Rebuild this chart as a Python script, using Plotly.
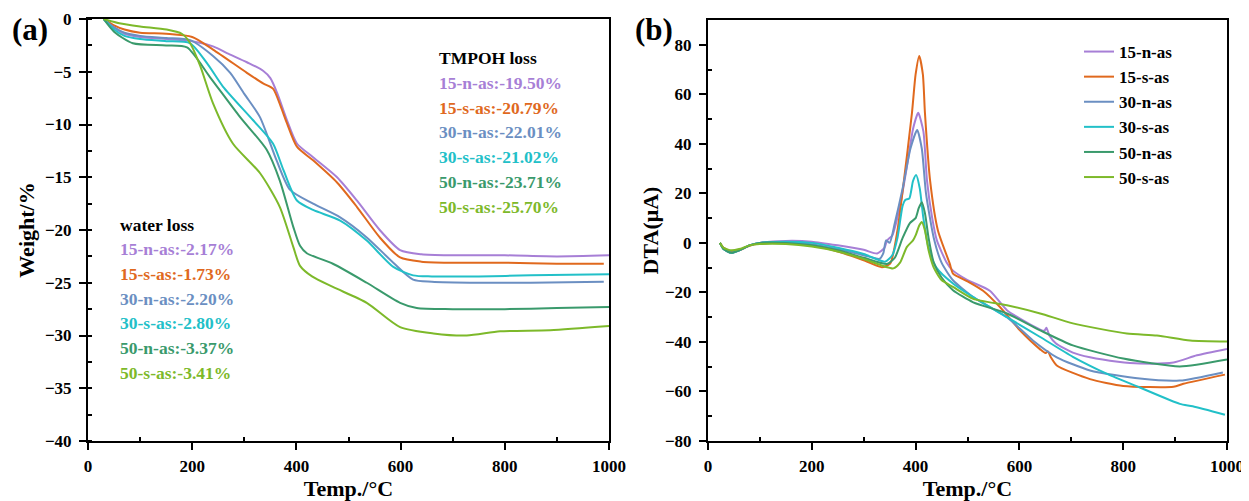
import plotly.graph_objects as go

# ---------------- data ----------------
names = ["15-n-as", "15-s-as", "30-n-as", "30-s-as", "50-n-as", "50-s-as"]
colors = ["#A77FD6", "#E0691E", "#6B8FC2", "#22C0C8", "#3A9A6C", "#7DB92A"]

# TGA (panel a)
tga_x_15n = [30, 50, 70, 100, 150, 200, 240, 270, 305, 336, 350, 363, 382, 401, 432, 478, 516, 560, 599, 640, 700, 800, 900, 1000]
tga_y_15n = [0, -0.8, -1.4, -1.7, -1.9, -2.1, -2.6, -3.3, -4.1, -4.9, -5.6, -7.0, -9.6, -11.8, -13.1, -15.0, -17.2, -20.0, -21.9, -22.3, -22.4, -22.4, -22.5, -22.4]
tga_x_15s = [30, 50, 70, 100, 150, 200, 240, 305, 336, 355, 370, 382, 401, 432, 478, 516, 560, 599, 640, 700, 800, 900, 990]
tga_y_15s = [0, -0.6, -1.0, -1.3, -1.4, -1.7, -2.9, -5.1, -6.1, -6.6, -8.3, -9.9, -12.1, -13.4, -15.5, -17.8, -20.7, -22.6, -23.0, -23.1, -23.1, -23.2, -23.2]
tga_x_30n = [30, 50, 70, 100, 150, 196, 240, 273, 300, 330, 362, 388, 432, 484, 535, 586, 624, 660, 750, 850, 990]
tga_y_30n = [0, -0.8, -1.3, -1.6, -1.8, -2.0, -3.5, -5.1, -7.1, -9.3, -13.4, -16.2, -17.5, -18.8, -20.7, -23.1, -24.7, -24.9, -25.0, -25.0, -24.9]
tga_x_30s = [30, 50, 70, 100, 150, 196, 230, 259, 317, 355, 375, 401, 432, 484, 535, 586, 624, 660, 750, 850, 1000]
tga_y_30s = [0, -1.0, -1.6, -1.9, -2.1, -2.3, -4.3, -6.4, -9.6, -11.8, -14.3, -17.2, -18.1, -19.1, -21.0, -23.5, -24.3, -24.4, -24.4, -24.3, -24.2]
tga_x_50n = [30, 50, 86, 150, 190, 234, 292, 343, 368, 394, 407, 420, 470, 535, 599, 631, 700, 800, 900, 1000]
tga_y_50n = [0, -1.2, -2.3, -2.5, -2.7, -5.5, -9.3, -12.4, -15.3, -19.7, -21.5, -22.2, -23.2, -25.0, -26.9, -27.4, -27.5, -27.5, -27.4, -27.3]
tga_x_50s = [30, 60, 100, 151, 180, 195, 215, 240, 278, 330, 368, 394, 407, 430, 470, 535, 599, 663, 727, 791, 887, 1000]
tga_y_50s = [0, -0.4, -0.7, -1.0, -1.4, -2.2, -4.4, -8.0, -11.8, -14.6, -17.8, -21.6, -23.4, -24.4, -25.4, -26.9, -29.2, -29.8, -30.0, -29.6, -29.5, -29.1]

# DTA (panel b)
dta_x_15n = [23, 30, 45, 60, 80, 100, 150, 200, 250, 300, 326, 340, 345, 355, 370, 385, 395, 405, 415, 422, 432, 441, 460, 472, 500, 543, 576, 607, 640, 648, 652, 658, 670, 703, 736, 790, 832, 897, 942, 1000]
dta_y_15n = [0, -2.5, -4, -3, -1, 0, 0.8, 0.5, -1, -2.8, -4.3, -2, 1, 3, 15, 33, 46, 52.5, 45, 25, 10, 1, -8, -11.2, -15, -19.3, -27.2, -31.3, -35.0, -35.5, -34.3, -37.5, -40.5, -44.3, -46.2, -48.0, -48.7, -48.3, -45.4, -42.8]
dta_x_15s = [23, 30, 45, 60, 80, 100, 150, 200, 250, 300, 335, 351, 365, 376, 393, 400, 407, 414, 418, 428, 443, 466, 472, 500, 530, 563, 601, 640, 650, 655, 660, 672, 736, 800, 897, 916, 996]
dta_y_15s = [0, -2, -3.5, -3, -1.2, -0.3, 0, -1, -3.5, -7, -9.8, -8.4, 5, 22.6, 52.5, 68, 75.5, 68, 52.5, 25, 5, -8.5, -12.4, -15.5, -19.3, -26, -35.3, -43, -44.5, -43.8, -46, -49.5, -55, -57.8, -58.1, -56.9, -53.2]
dta_x_30n = [23, 30, 45, 60, 80, 100, 150, 200, 250, 300, 331, 338, 343, 350, 360, 375, 390, 403, 412, 420, 435, 450, 472, 511, 576, 626, 672, 736, 832, 909, 992]
dta_y_30n = [0, -2.5, -4, -3, -1, 0, 0.3, -0.5, -2.5, -5, -6.4, -4, 1, 0, 8, 22, 38, 45.6, 38, 20, 2, -8, -15.1, -21.9, -30, -39.4, -46.2, -51.5, -54.8, -55.6, -52.3]
dta_x_30s = [23, 30, 45, 60, 80, 100, 150, 200, 250, 300, 341, 355, 365, 375, 380, 388, 395, 401, 408, 415, 425, 440, 472, 511, 576, 640, 703, 768, 832, 909, 934, 996]
dta_y_30s = [0, -2.5, -4, -3, -1, 0, 0.5, 0, -2, -4.5, -7.6, -5, 2, 15, 17.3, 18, 25, 27.4, 22, 10, -2, -10, -16.4, -21.9, -30, -38, -46, -52.8, -58.4, -65, -66, -69.4]
dta_x_50n = [23, 30, 45, 60, 80, 100, 150, 200, 250, 300, 345, 360, 375, 389, 400, 406, 412, 418, 425, 435, 450, 472, 511, 576, 640, 703, 800, 909, 1000]
dta_y_50n = [0, -2.5, -4, -3, -1, 0, 0, -1, -3, -6, -8.5, -6, 2, 8, 10, 14, 16.4, 12, 2, -8, -14, -19.1, -24, -28.5, -35.3, -41.4, -46.7, -49.9, -47.1]
dta_x_50s = [23, 30, 45, 60, 80, 100, 150, 200, 250, 300, 357, 370, 383, 395, 400, 407, 412, 418, 425, 435, 450, 472, 511, 576, 640, 703, 807, 865, 929, 1000]
dta_y_50s = [0, -2, -3, -2.5, -1, -0.5, -0.5, -1.5, -3.5, -6.5, -10.3, -8, -1.7, 1, 3, 7, 8.4, 5, -3, -10, -15, -17.8, -22.6, -25.2, -28.5, -32.5, -36.6, -37.4, -39.4, -39.8]

water_loss = ["-2.17%", "-1.73%", "-2.20%", "-2.80%", "-3.37%", "-3.41%"]
tmpoh_loss = ["-19.50%", "-20.79%", "-22.01%", "-21.02%", "-23.71%", "-25.70%"]

tga_x = [tga_x_15n, tga_x_15s, tga_x_30n, tga_x_30s, tga_x_50n, tga_x_50s]
tga_y = [tga_y_15n, tga_y_15s, tga_y_30n, tga_y_30s, tga_y_50n, tga_y_50s]
dta_x = [dta_x_15n, dta_x_15s, dta_x_30n, dta_x_30s, dta_x_50n, dta_x_50s]
dta_y = [dta_y_15n, dta_y_15s, dta_y_30n, dta_y_30s, dta_y_50n, dta_y_50s]

FONT = "Liberation Serif"
W, H = 1241, 493   # page has an 8px body margin

fig = go.Figure()
for i, n in enumerate(names):
    fig.add_trace(go.Scatter(x=tga_x[i], y=tga_y[i], mode="lines", name=n, showlegend=False,
                             line=dict(color=colors[i], width=2, shape="spline", smoothing=0.7),
                             xaxis="x", yaxis="y"))
for i, n in enumerate(names):
    fig.add_trace(go.Scatter(x=dta_x[i], y=dta_y[i], mode="lines", name=n, showlegend=True,
                             line=dict(color=colors[i], width=2, shape="spline", smoothing=0.6),
                             xaxis="x2", yaxis="y2"))

tickfont = dict(family=FONT, size=17, color="black", weight="bold")
titlefont = dict(family=FONT, size=22, color="black", weight="bold")

def xaxis(domain, anchor):
    return dict(domain=domain, anchor=anchor, range=[0, 1000], tickvals=[0, 200, 400, 600, 800, 1000],
                ticks="outside", ticklen=7, tickwidth=1.5, tickcolor="black", automargin=False,
                ticklabelstandoff=2,
                minor=dict(tickvals=[100, 300, 500, 700, 900], ticks="inside", ticklen=4, tickwidth=1.5, tickcolor="black"),
                showline=True, mirror=True, linecolor="black", linewidth=2,
                showgrid=False, zeroline=False, tickfont=tickfont,
                title=dict(text="Temp./°C", font=titlefont, standoff=4))

fig.update_layout(
    width=W, height=H,
    margin=dict(l=0, r=0, t=0, b=0, autoexpand=False),
    plot_bgcolor="white", paper_bgcolor="white",
    xaxis=xaxis([80 / W, 601 / W], "y"),
    xaxis2=xaxis([700 / W, 1219 / W], "y2"),
    yaxis=dict(domain=[60 / H, 482 / H], anchor="x", range=[-40, 0], automargin=False,
               tickvals=[0, -5, -10, -15, -20, -25, -30, -35, -40],
               ticks="outside", ticklen=7, tickwidth=1.5, tickcolor="black", ticklabelstandoff=4,
               minor=dict(dtick=2.5, ticks="inside", ticklen=4, tickwidth=1.5, tickcolor="black"),
               showline=True, mirror=True, linecolor="black", linewidth=2,
               showgrid=False, zeroline=False, tickfont=tickfont,
               title=dict(text="Weight/%", font=titlefont, standoff=4)),
    yaxis2=dict(domain=[60 / H, 481 / H], anchor="x2", range=[-80, 90], automargin=False,
                tickvals=[-80, -60, -40, -20, 0, 20, 40, 60, 80],
                ticks="outside", ticklen=7, tickwidth=1.5, tickcolor="black", ticklabelstandoff=4,
                minor=dict(tickvals=[-70, -50, -30, -10, 10, 30, 50, 70], ticks="inside", ticklen=4, tickwidth=1.5, tickcolor="black"),
                showline=True, mirror=True, linecolor="black", linewidth=2,
                showgrid=False, zeroline=False, tickfont=tickfont,
                title=dict(text="DTA(μA)", font=titlefont, standoff=0)),
    legend=dict(x=1071 / W, y=1 - 26 / H, xanchor="left", yanchor="top",
                font=dict(family=FONT, size=17, color="black", weight="bold"),
                bgcolor="rgba(0,0,0,0)", tracegroupgap=0, itemwidth=30),
    showlegend=True,
)

ann = [
    dict(text="(a)", x=2 / W, y=1 - 22 / H, xref="paper", yref="paper", xanchor="left", yanchor="middle",
         showarrow=False, font=dict(family=FONT, size=31, color="black", weight="bold")),
    dict(text="(b)", x=625 / W, y=1 - 22 / H, xref="paper", yref="paper", xanchor="left", yanchor="middle",
         showarrow=False, font=dict(family=FONT, size=31, color="black", weight="bold")),
]
# TMPOH loss block
ann.append(dict(text="TMPOH loss", x=670, y=-3.7, xref="x", yref="y", xanchor="left", yanchor="middle",
                showarrow=False, font=dict(family=FONT, size=17.5, color="black", weight="bold")))
for i, n in enumerate(names):
    ann.append(dict(text=f"{n}:{tmpoh_loss[i]}", x=670, y=-3.7 - 2.35 * (i + 1), xref="x", yref="y",
                    xanchor="left", yanchor="middle", showarrow=False,
                    font=dict(family=FONT, size=17.5, color=colors[i], weight="bold")))
# water loss block
ann.append(dict(text="water loss", x=58, y=-19.5, xref="x", yref="y", xanchor="left", yanchor="middle",
                showarrow=False, font=dict(family=FONT, size=17.5, color="black", weight="bold")))
for i, n in enumerate(names):
    ann.append(dict(text=f"{n}:{water_loss[i]}", x=58, y=-19.5 - 2.34 * (i + 1), xref="x", yref="y",
                    xanchor="left", yanchor="middle", showarrow=False,
                    font=dict(family=FONT, size=17.5, color=colors[i], weight="bold")))
fig.update_layout(annotations=ann)

fig.write_html("out.html")
